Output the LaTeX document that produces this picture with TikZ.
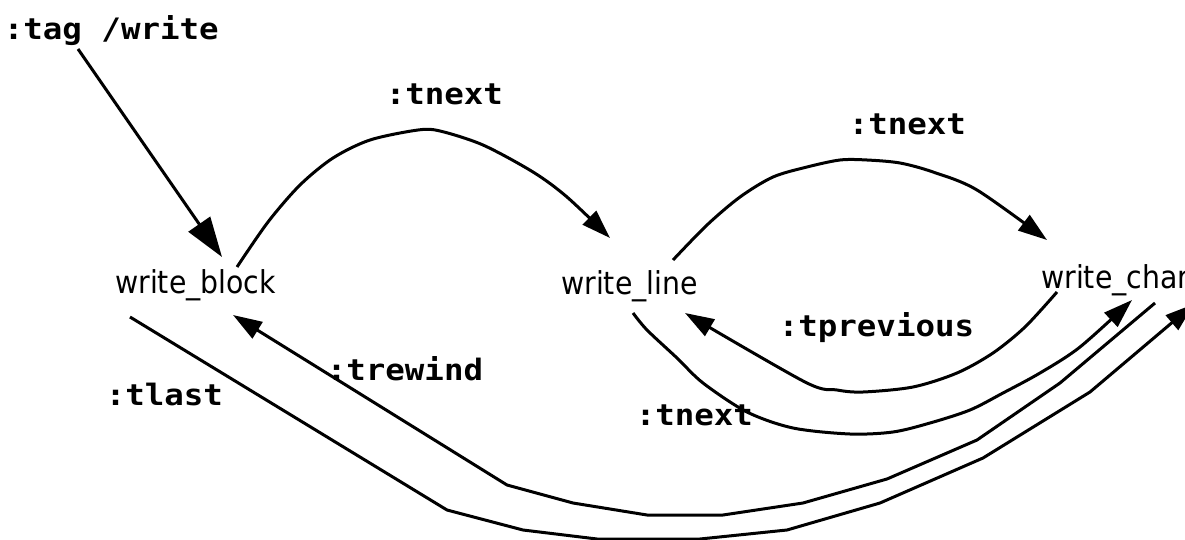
\documentclass[tikz,border=0pt]{standalone}
\usepackage{fontspec}
\setmainfont{DejaVu Sans}[FakeStretch=0.9]
\newfontfamily\lblmono{DejaVu Sans Mono}[FakeStretch=1.1]
\usetikzlibrary{arrows.meta,calc}
\tikzset{
  nodetext/.style={inner sep=0pt, anchor=base west, font={\fontsize{31.5}{33}\selectfont}},
  edgelbl/.style={inner sep=0pt, anchor=base west, font={\lblmono\bfseries\fontsize{29.5}{31}\selectfont}},
  edge/.style={line width=3pt, line join=round, -{Triangle[length=29pt,width=19pt]}},
  bigedge/.style={line width=3pt, line join=round, -{Triangle[length=40pt,width=26pt]}}
}
\begin{document}
\begin{tikzpicture}[x=1pt,y=-1pt]
\useasboundingbox (0,0) rectangle (1185,540);
\clip (0,0) rectangle (1185,540);
% nodes
\node[nodetext] (wb) at (115,293) {write\_block};
\node[nodetext] (wl) at (561,294) {write\_line};
\node[nodetext] (wc) at (1041,288) {write\_char};
\node[edgelbl] (tag) at (3.6,40) {:tag /write};
% edge labels
\node[edgelbl] (l2) at (385.6,105) {:tnext};
\node[edgelbl] (l3) at (848.6,135) {:tnext};
\node[edgelbl] (l4) at (778.6,336) {:tprevious};
\node[edgelbl] (l5) at (635.6,425) {:tnext};
\node[edgelbl] (l6) at (105.6,405) {:tlast};
\node[edgelbl] (l7) at (326.6,380) {:trewind};
% endpoints
\coordinate (a1) at ($(tag.base west)+(74.4,9)$);
\coordinate (b1) at ($(wb.base west)+(107,-36)$);
\coordinate (a2) at ($(wb.base west)+(122,-26)$);
\coordinate (b2) at ($(wl.base west)+(49,-56)$);
\coordinate (a3) at ($(wl.base west)+(112,-34)$);
\coordinate (b3) at ($(wc.base west)+(6,-48)$);
\coordinate (a4) at ($(wc.base west)+(16,4)$);
\coordinate (b4) at ($(wl.base west)+(124,19)$);
\coordinate (a5) at ($(wl.base west)+(72,19)$);
\coordinate (b5) at ($(wc.base west)+(91,12)$);
\coordinate (a6) at ($(wb.base west)+(15,24)$);
\coordinate (b6) at ($(wc.base west)+(153,16)$);
\coordinate (a7) at ($(wc.base west)+(114,15)$);
\coordinate (b7) at ($(wb.base west)+(118,22)$);
% edges
\draw[bigedge] (a1) -- (b1);
\draw[edge] plot[smooth,tension=0.5] coordinates {(a2) (268,222) (300,185) (333,158) (370,140) (418,130) (440,131) (483,145) (533,172) (567,197) (b2)};
\draw[edge] plot[smooth,tension=0.5] coordinates {(a3) (707,225) (740,197) (773,177) (807,167) (840,160) (867,160) (900,163) (933,172) (977,190) (b3)};
\draw[edge] plot[smooth,tension=0.5] coordinates {(a4) (1025,327) (993,353) (957,373) (913,387) (863,392) (837,390) (805,382) (b4)};
\draw[edge] plot[smooth,tension=0.5] coordinates {(a5) (647,330) (677,358) (703,383) (747,412) (793,428) (850,434) (893,432) (930,423) (970,410) (1003,393) (1040,373) (1080,347) (b5)};
\draw[edge] (a6) -- (447,510) -- (523,530) -- (597,539) -- (700,539) -- (787,530) -- (880,503) -- (983,458) -- (1090,392) -- (b6);
\draw[edge] (a7) -- (1060,383) -- (977,440) -- (887,479) -- (803,503) -- (723,515) -- (647,515) -- (573,503) -- (507,485) -- (b7);
\end{tikzpicture}
\end{document}
